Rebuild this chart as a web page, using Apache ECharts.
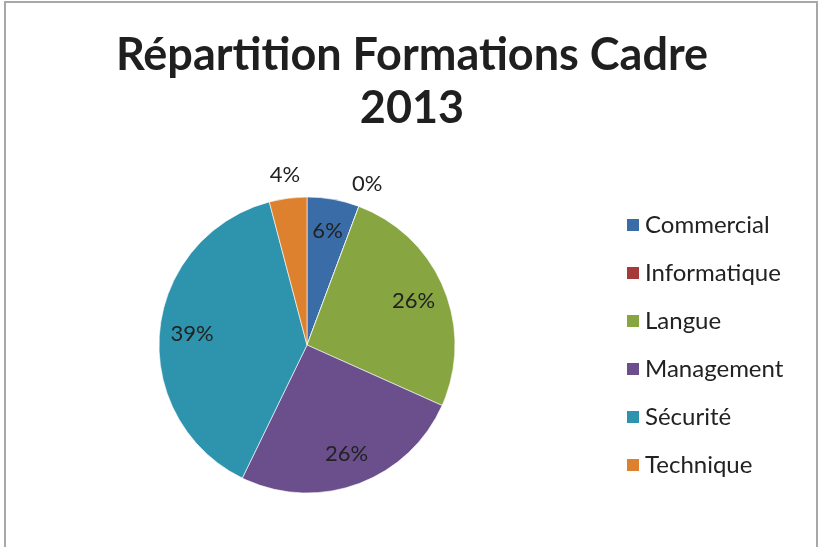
<!DOCTYPE html>
<html>
<head>
<meta charset="utf-8">
<script src="https://cdn.jsdelivr.net/npm/echarts@6/dist/echarts.min.js"></script>
<style>
  html, body { margin: 0; padding: 0; background: #fff; }
  #frame {
    position: absolute; left: 4px; top: 1px; width: 814px; height: 560px;
    border: 2px solid #a8a8a8; box-sizing: border-box; background: #fff;
  }
  #chart { position: absolute; left: 0; top: 0; width: 819px; height: 547px; }
</style>
</head>
<body>
<div id="frame"></div>
<div id="chart"></div>
<script>
const categories = ['Commercial', 'Informatique', 'Langue', 'Management', 'Sécurité', 'Technique']
const values = [5.7, 0, 26.0, 25.5, 38.7, 4.1]
const colors = ['#3a6ca7', '#a63a37', '#87a541', '#6a4f8c', '#2e94ae', '#dd812f']
// small slices get their label outside the pie
const outsideLabels = ['Informatique', 'Technique']

const FONT = 'Lato'
const cx = 307, cy = 345, R = 148

const chart = echarts.init(document.getElementById('chart'))

const pct = p => Math.round(p.percent) + '%'
const labelStyle = { fontFamily: FONT, fontSize: 22, color: '#222' }

chart.setOption({
  animation: false,
  title: {
    text: 'Répartition Formations Cadre\n2013',
    left: 407, top: 24, textAlign: 'center',
    textStyle: { fontFamily: FONT, fontWeight: 'bold', fontSize: 45, lineHeight: 53, color: '#1f1f1f' }
  },
  legend: {
    orient: 'vertical',
    left: 620, top: 208,
    itemWidth: 14, itemHeight: 14, itemGap: 24,
    icon: 'rect',
    data: categories,
    textStyle: { fontFamily: FONT, fontSize: 24, lineHeight: 24, color: '#222' }
  },
  color: colors,
  series: [
    {
      type: 'pie',
      center: [cx, cy],
      radius: [0, R],
      startAngle: 90,
      clockwise: true,
      label: { show: false },
      labelLine: { show: false },
      itemStyle: { borderColor: '#fff', borderWidth: 0.6 },
      data: categories.map((c, i) => ({ name: c, value: values[i] }))
    },
    {
      // transparent ring that carries the inside labels at ~0.76 R
      type: 'pie', silent: true,
      center: [cx, cy], radius: [R * 0.52, R],
      startAngle: 90,
      itemStyle: { color: 'rgba(0,0,0,0)' },
      labelLine: { show: false },
      data: categories.map((c, i) => ({
        name: c, value: values[i],
        label: { show: !outsideLabels.includes(c), position: 'inside', formatter: pct, ...labelStyle }
      }))
    },
    {
      // transparent ring outside the pie for the small slices
      type: 'pie', silent: true,
      center: [cx, cy], radius: [R, R * 1.28],
      startAngle: 90,
      itemStyle: { color: 'rgba(0,0,0,0)' },
      labelLine: { show: false },
      data: categories.map((c, i) => ({
        name: c, value: values[i],
        label: { show: outsideLabels.includes(c), position: 'inside', formatter: pct, ...labelStyle }
      }))
    }
  ]
})
</script>
</body>
</html>
